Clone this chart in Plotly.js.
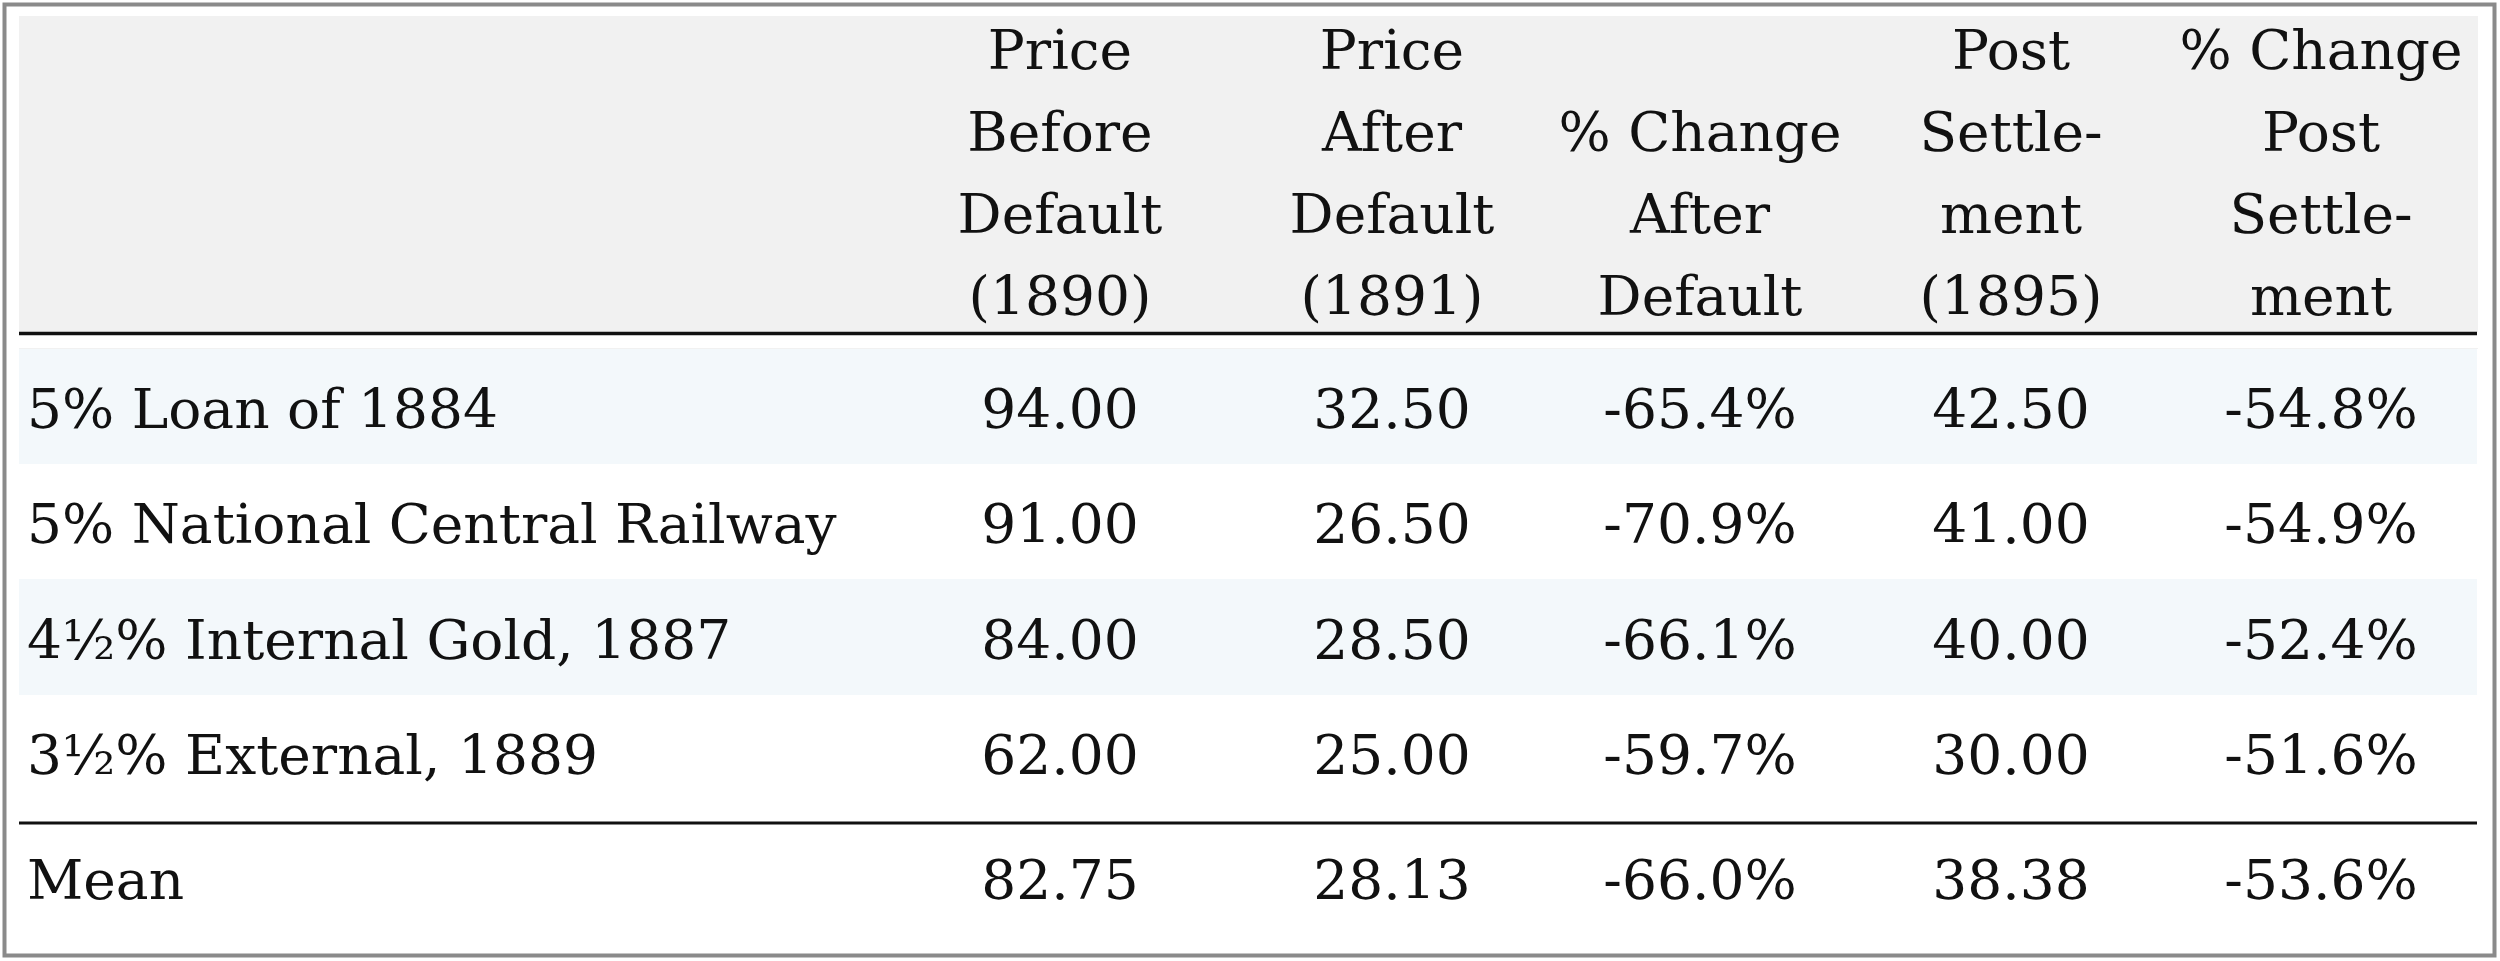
<!DOCTYPE html>
<html>
<head>
<meta charset="utf-8">
<script src="https://cdn.plot.ly/plotly-3.0.1.min.js"></script>
<style>html,body{margin:0;padding:0;background:#fff;}</style>
</head>
<body>
<div id="chart" style="width:2500px;height:961px;"></div>
<script>
const headers = ["", "Price<br>Before<br>Default<br>(1890)", "Price<br>After<br>Default<br>(1891)", "\u00a0<br>% Change<br>After<br>Default", "Post<br>Settle-<br>ment<br>(1895)", "% Change<br>Post<br>Settle-<br>ment"];
const bonds = ["5% Loan of 1884", "5% National Central Railway", "4½% Internal Gold, 1887", "3½% External, 1889", "Mean"];
const priceBefore1890 = [94.00, 91.00, 84.00, 62.00, 82.75];
const priceAfter1891 = [32.50, 26.50, 28.50, 25.00, 28.13];
const changeAfterDefault = [-65.4, -70.9, -66.1, -59.7, -66.0];
const postSettlement1895 = [42.50, 41.00, 40.00, 30.00, 38.38];
const changePostSettlement = [-54.8, -54.9, -52.4, -51.6, -53.6];

const W = 2500, H = 961;
const FONT = "DejaVu Serif";
const FS = 55;
const TOP = 16, HEADER_H = 332, ROW_H = 115.5;
const band = "#f3f8fb", white = "#ffffff", headFill = "#f1f1f1";
const rowFill = bonds.map((_, i) => (i % 2 === 0 && i < bonds.length - 1) ? band : white);

const trace = {
  type: "table",
  domain: {x: [19 / W, 2477 / W], y: [0, 1 - TOP / H]},
  columnwidth: [860, 362, 302, 314, 308, 312],
  header: {
    values: headers,
    align: ["left", "center", "center", "center", "center", "center"],
    height: HEADER_H,
    fill: {color: headFill},
    line: {width: 1, color: headFill},
    font: {family: FONT, size: FS, color: "#111"}
  },
  cells: {
    values: [bonds, priceBefore1890, priceAfter1891, changeAfterDefault, postSettlement1895, changePostSettlement],
    format: ["", ".2f", ".2f", ".1f", ".2f", ".1f"],
    suffix: ["", "", "", "%", "", "%"],
    align: ["left", "center", "center", "center", "center", "center"],
    height: ROW_H,
    fill: {color: [rowFill, rowFill, rowFill, rowFill, rowFill, rowFill]},
    line: {width: 0, color: "rgba(0,0,0,0)"},
    font: {family: FONT, size: FS, color: "#111"}
  }
};

const layout = {
  width: W, height: H,
  margin: {l: 0, r: 0, t: 0, b: 0},
  paper_bgcolor: "#fff",
  showlegend: false,
  shapes: [
    {type: "rect", xref: "paper", yref: "paper", x0: 4.5 / W, x1: 2494.5 / W, y0: 1 - 955.5 / H, y1: 1 - 4.5 / H,
     line: {color: "#8a8a8a", width: 4}, fillcolor: "rgba(0,0,0,0)", layer: "above"},
    {type: "rect", xref: "paper", yref: "paper", x0: 17 / W, x1: 2479 / W, y0: 1 - 348 / H, y1: 1 - 332 / H,
     line: {width: 0}, fillcolor: "#ffffff", layer: "above"},
    {type: "line", xref: "paper", yref: "paper", x0: 19 / W, x1: 2477 / W, y0: 1 - 333.5 / H, y1: 1 - 333.5 / H,
     line: {color: "#111", width: 3.5}, layer: "above"},
    {type: "line", xref: "paper", yref: "paper", x0: 19 / W, x1: 2477 / W, y0: 1 - 823 / H, y1: 1 - 823 / H,
     line: {color: "#111", width: 3}, layer: "above"}
  ]
};

function parseLen(v, fs) {
  if (!v) return 0;
  v = String(v);
  if (v.endsWith("em")) return parseFloat(v) * fs;
  return parseFloat(v) || 0;
}

// Typographic finishing: centre each header line, set header leading, centre body text vertically in its row
function finishTable(gd) {
  try {
    const root = gd.getBoundingClientRect();
    const texts = Array.from(gd.querySelectorAll("text.cell-text"));
    const HEADER_LEAD = 82, HEADER_FIRST = 50;
    texts.forEach(t => {
      const r0 = t.getBoundingClientRect();
      if (r0.height === 0) return;
      const top = r0.top - root.top;
      const fs = parseFloat(getComputedStyle(t).fontSize) || FS;
      if (top < HEADER_H) {
        const lines = Array.from(t.querySelectorAll("tspan.line"));
        if (lines.length > 1) {
          const bw = t.getBBox().width;
          lines.forEach((ln, i) => {
            const r = ln.getBoundingClientRect();
            const c = (r.top + r.bottom) / 2 - root.top;
            const target = HEADER_FIRST + HEADER_LEAD * i;
            ln.setAttribute("dy", (parseLen(ln.getAttribute("dy"), fs) + target - c) + "px");
          });
          const x0 = parseFloat(lines[0].getAttribute("x")) || 0;
          t.style.textAnchor = "middle";
          lines.forEach(ln => { ln.setAttribute("x", x0 + bw / 2); ln.style.textAnchor = "middle"; });
        }
      } else {
        const c = (r0.top + r0.bottom) / 2 - root.top;
        let idx = Math.floor((c - (TOP + HEADER_H)) / ROW_H);
        idx = Math.max(0, Math.min(bonds.length - 1, idx));
        const target = idx < bonds.length - 1 ? TOP + HEADER_H + ROW_H * idx + ROW_H / 2 + 3 : 880;
        const prev = t.getAttribute("transform") || "";
        t.setAttribute("transform", (prev + " translate(0," + (target - c) + ")").trim());
      }
    });
  } catch (e) { console.log(e); }
}

Plotly.newPlot("chart", [trace], layout, {displayModeBar: false, staticPlot: true})
  .then(gd => finishTable(gd));
</script>
</body>
</html>
